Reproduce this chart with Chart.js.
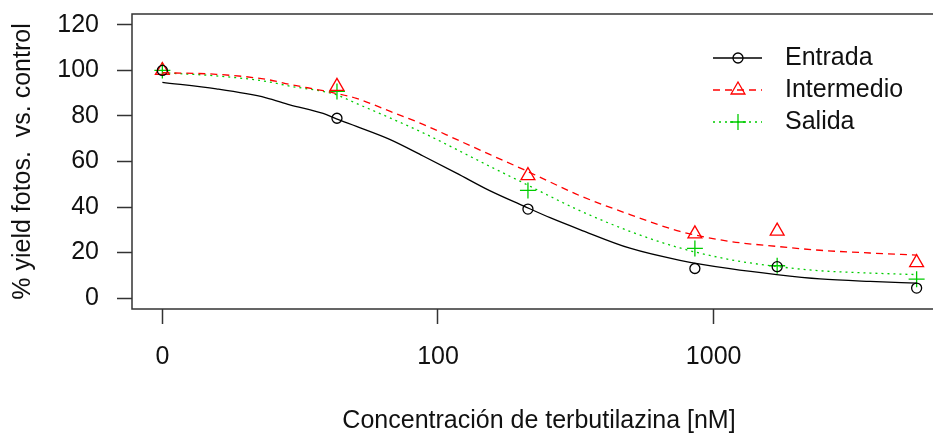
<!DOCTYPE html>
<html>
<head>
<meta charset="utf-8">
<script src="https://cdn.jsdelivr.net/npm/chart.js@4.4.1/dist/chart.umd.min.js"></script>
<style>
  html, body { margin: 0; padding: 0; background: #fff; overflow: hidden; }
  #wrap { width: 960px; height: 434px; }
</style>
</head>
<body>
<div id="wrap"><canvas id="c" width="960" height="434"></canvas></div>
<script>
// ---------- Data ----------
// Measured doses (nM). The control (0 nM) sits at 10 on the log axis.
var doses = [10, 43, 212, 855, 1700, 5450];

var entradaObs    = [100, 79.0, 39.1, 13.0, 13.8, 4.4];
var intermedioObs = [100, 93.0, 53.8, 28.2, 29.4, 15.6];
var salidaObs     = [100, 90.8, 47.3, 21.8, 14.2, 8.3];

// Fitted dose-response curves, read along the dose axis
var curveDoses    = [10, 15.7, 23.8, 29, 38.3, 42.8, 50.6, 66.8, 88.3, 116.7, 154, 204, 255, 327, 497, 755, 1146, 1693, 2432, 3692, 5457];
var entradaFit    = [94.8, 91.9, 88.0, 84.9, 81.1, 78.7, 75.4, 69.7, 62.4, 54.9, 47.2, 40.5, 35.3, 30.1, 21.9, 16.6, 12.9, 10.3, 8.4, 7.3, 6.6];
var intermedioFit = [99.0, 98.3, 96.1, 93.9, 91.1, 89.9, 87.7, 82.1, 76.3, 69.7, 63.1, 56.5, 51.0, 45.0, 36.7, 29.3, 24.9, 22.7, 21.0, 19.8, 18.9];
var salidaFit     = [99.0, 97.6, 95.2, 93.1, 90.8, 89.3, 85.5, 79.2, 72.6, 65.3, 57.9, 50.6, 44.7, 38.4, 29.3, 22.0, 16.9, 13.9, 12.0, 11.0, 10.3];

var seriesNames = ['Entrada', 'Intermedio', 'Salida'];

var xTickValues = [10, 100, 1000];
var xTickLabels = ['0', '100', '1000'];
var yTickValues = [0, 20, 40, 60, 80, 100, 120];

// ---------- Styles ----------
var FONT = "'Liberation Sans', Arial, sans-serif";
var TEXT = '#111';
var FRAME = '#333';
var seriesStyle = [
  { color: '#000000', dash: [],     marker: 'circle',   size: 5 },
  { color: '#ff0000', dash: [7, 5], marker: 'triangle', size: 8 },
  { color: '#00cc00', dash: [2, 4], marker: 'cross',    size: 8 },
];

Chart.defaults.font.family = FONT;
Chart.defaults.font.size = 25;
Chart.defaults.color = TEXT;

function pairs(xs, ys) {
  return xs.map(function (x, i) { return { x: x, y: ys[i] }; });
}

function curveSet(label, ys, s) {
  return {
    label: label, data: pairs(curveDoses, ys), showLine: true,
    borderColor: s.color, borderWidth: 1.3, borderDash: s.dash,
    pointRadius: 0, fill: false, cubicInterpolationMode: 'monotone',
  };
}

function pointSet(label, ys, s) {
  return {
    label: label, data: pairs(doses, ys), showLine: false,
    pointStyle: s.marker, pointRadius: s.size, pointHoverRadius: s.size,
    pointBorderColor: s.color, pointBackgroundColor: 'transparent', pointBorderWidth: 1.3,
  };
}

// Tick labels must not add extra room around the plotting region
function noLabelPadding(scale) {
  scale.paddingLeft = 0;
  scale.paddingRight = 0;
  scale.paddingTop = 0;
  scale.paddingBottom = 0;
}

// ---------- Marker drawing for the legend ----------
function drawMarker(ctx, kind, x, y, size) {
  ctx.beginPath();
  if (kind === 'circle') {
    ctx.arc(x, y, size, 0, Math.PI * 2);
  } else if (kind === 'triangle') {
    var a = size * Math.sqrt(3) / 2;
    ctx.moveTo(x, y - size);
    ctx.lineTo(x + a, y + size / 2);
    ctx.lineTo(x - a, y + size / 2);
    ctx.closePath();
  } else {
    ctx.moveTo(x - size, y); ctx.lineTo(x + size, y);
    ctx.moveTo(x, y - size); ctx.lineTo(x, y + size);
  }
  ctx.stroke();
}

// Box around the plotting region
var frameBox = {
  id: 'frameBox',
  afterDraw: function (chart) {
    var a = chart.chartArea, ctx = chart.ctx;
    ctx.save();
    ctx.strokeStyle = FRAME;
    ctx.lineWidth = 1.5;
    ctx.strokeRect(a.left, a.top, a.right - a.left, a.bottom - a.top);
    ctx.restore();
  }
};

// Line + symbol legend, top right
var lineLegend = {
  id: 'lineLegend',
  afterDraw: function (chart) {
    var ctx = chart.ctx;
    ctx.save();
    seriesNames.forEach(function (name, i) {
      var s = seriesStyle[i];
      var y = 58 + i * 32;
      ctx.strokeStyle = s.color;
      ctx.lineWidth = 1.3;
      ctx.setLineDash(s.dash);
      ctx.beginPath(); ctx.moveTo(713, y); ctx.lineTo(762, y); ctx.stroke();
      ctx.setLineDash([]);
      drawMarker(ctx, s.marker, 738, y, s.size);
      ctx.fillStyle = TEXT;
      ctx.font = '25px ' + FONT;
      ctx.textAlign = 'left';
      ctx.textBaseline = 'middle';
      ctx.fillText(name, 785, y);
    });
    ctx.restore();
  }
};

new Chart(document.getElementById('c'), {
  type: 'scatter',
  data: {
    datasets: [
      curveSet('Entrada fit', entradaFit, seriesStyle[0]),
      curveSet('Intermedio fit', intermedioFit, seriesStyle[1]),
      curveSet('Salida fit', salidaFit, seriesStyle[2]),
      pointSet('Entrada', entradaObs, seriesStyle[0]),
      pointSet('Intermedio', intermedioObs, seriesStyle[1]),
      pointSet('Salida', salidaObs, seriesStyle[2]),
    ],
  },
  options: {
    responsive: false,
    animation: false,
    layout: { padding: { top: 14, right: 14, left: 0, bottom: 0 } },
    plugins: { legend: { display: false }, tooltip: { enabled: false } },
    scales: {
      x: {
        type: 'logarithmic',
        min: 7.76, max: 6966,
        afterBuildTicks: function (scale) {
          scale.ticks = xTickValues.map(function (v) { return { value: v }; });
        },
        afterFit: function (scale) { scale.height = 125; noLabelPadding(scale); },
        ticks: {
          padding: 18,
          color: TEXT,
          maxRotation: 0,
          autoSkip: false,
          callback: function (v) {
            var i = xTickValues.indexOf(v);
            return i >= 0 ? xTickLabels[i] : '';
          },
        },
        grid: { drawOnChartArea: false, drawTicks: true, tickLength: 15, tickWidth: 1.5, tickColor: FRAME },
        border: { display: false },
        title: {
          display: true,
          text: 'Concentración de terbutilazina [nM]',
          color: TEXT,
          font: { size: 25, lineHeight: 1 },
          padding: { top: 0, bottom: 0 },
        },
      },
      y: {
        min: -4.8, max: 124.8,
        afterBuildTicks: function (scale) {
          scale.ticks = yTickValues.map(function (v) { return { value: v }; });
        },
        afterFit: function (scale) { scale.width = 132; noLabelPadding(scale); },
        ticks: { padding: 18, color: TEXT },
        grid: { drawOnChartArea: false, drawTicks: true, tickLength: 15, tickWidth: 1.5, tickColor: FRAME },
        border: { display: false },
        title: {
          display: true,
          text: '% yield fotos.  vs. control',
          color: TEXT,
          font: { size: 25, lineHeight: 1 },
          padding: { top: 11, bottom: 0 },
        },
      },
    },
  },
  plugins: [frameBox, lineLegend],
});
</script>
</body>
</html>
